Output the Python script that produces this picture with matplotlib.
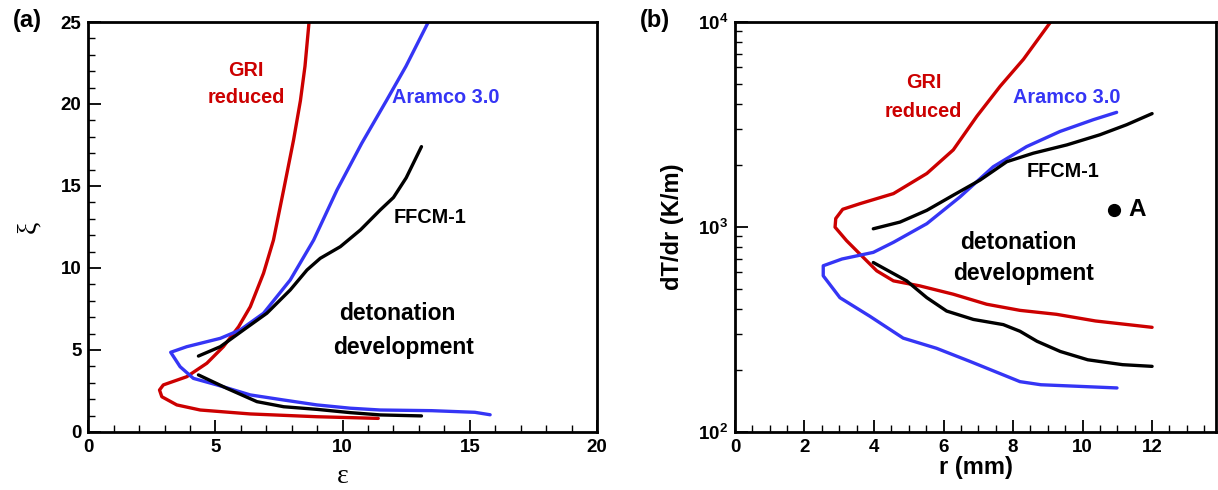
import numpy as np
import matplotlib
matplotlib.use("Agg")
import matplotlib.pyplot as plt
from matplotlib.ticker import MultipleLocator, LogLocator, NullFormatter, FixedLocator

plt.rcParams['font.family'] = ['Liberation Sans', 'DejaVu Sans']
plt.rcParams['font.weight'] = 'bold'
plt.rcParams['axes.labelweight'] = 'bold'
plt.rcParams['mathtext.fontset'] = 'custom'
plt.rcParams['mathtext.bf'] = 'Liberation Sans:bold'
plt.rcParams['mathtext.rm'] = 'Liberation Sans:bold'

RED = '#cc0000'
BLUE = '#3535f5'

# ---- panel (a): xi vs epsilon ----
gri_a_eps = [8.68, 8.52, 8.34, 8.07, 7.68, 7.28, 6.89, 6.37, 5.91, 5.31, 4.66, 3.87, 2.95, 2.8,
             2.89, 3.48, 4.4, 6.37, 8.99, 11.4]
gri_a_xi = [25.0, 22.3, 20.2, 17.8, 14.76, 11.7, 9.68, 7.64, 6.42, 5.2, 4.19, 3.37, 2.87, 2.56,
            2.15, 1.65, 1.34, 1.1, 0.93, 0.83]

ara_a_eps = [13.37, 12.49, 11.72, 10.75, 9.78, 8.86, 7.94, 6.89, 5.97, 5.19, 3.87, 3.24, 3.61,
             4.13, 5.06, 6.37, 7.68, 8.99, 10.3, 11.48, 13.5, 15.2, 15.8]
ara_a_xi = [25.0, 22.3, 20.2, 17.6, 14.76, 11.7, 9.27, 7.24, 6.22, 5.71, 5.2, 4.86, 3.98,
            3.27, 2.87, 2.26, 1.95, 1.65, 1.45, 1.34, 1.3, 1.2, 1.05]

ffcm_a_up_eps = [4.33, 5.19, 6.1, 7.02, 7.94, 8.6, 9.12, 9.91, 10.7, 11.48, 12.0, 12.5, 13.1]
ffcm_a_up_xi = [4.63, 5.2, 6.22, 7.24, 8.66, 9.88, 10.59, 11.3, 12.32, 13.54, 14.3, 15.5, 17.4]
ffcm_a_lo_eps = [4.33, 5.45, 6.63, 7.68, 8.99, 10.3, 11.48, 13.1]
ffcm_a_lo_xi = [3.48, 2.66, 1.85, 1.54, 1.38, 1.18, 1.04, 0.98]

# ---- panel (b): dT/dr vs r ----
gri_b_r = [9.08, 8.3, 7.63, 6.96, 6.28, 5.52, 4.56, 3.6, 3.1, 2.9, 2.88, 3.21, 3.69, 4.08,
           4.56, 5.32, 6.28, 7.24, 8.2, 9.25, 10.37, 12.0]
gri_b_g = [10000, 6580, 4860, 3470, 2377, 1824, 1455, 1300, 1220, 1100, 998, 858, 711, 611,
           546, 516, 470, 420, 392, 375, 348, 324]

ara_b_r = [10.98, 10.31, 9.35, 8.39, 7.43, 6.47, 5.52, 4.56, 3.98, 3.08, 2.54, 2.54, 3.02,
           3.88, 4.84, 5.8, 6.76, 8.2, 8.8, 10.99]
ara_b_g = [3625, 3338, 2924, 2467, 1967, 1400, 1038, 842, 752, 698, 647, 578, 452,
           367, 287, 256, 221, 176, 170, 164]

ffcm_b_up_r = [3.98, 4.75, 5.52, 6.28, 7.05, 7.82, 8.58, 9.55, 10.5, 11.27, 12.0]
ffcm_b_up_g = [980, 1057, 1206, 1429, 1693, 2082, 2290, 2515, 2818, 3155, 3574]
ffcm_b_lo_r = [3.98, 4.94, 5.52, 6.09, 6.86, 7.72, 8.2, 8.69, 9.36, 10.15, 11.15, 12.0]
ffcm_b_lo_g = [671, 546, 452, 389, 354, 334, 310, 277, 247, 225, 213, 209]

point_a = (10.91, 1216)

fig = plt.figure(figsize=(12.18, 4.9), dpi=100)
ax1 = fig.add_axes([0.0725, 0.1184, 0.4176, 0.8367])
ax2 = fig.add_axes([0.6034, 0.1184, 0.3950, 0.8367])

lw = 2.4
kw = dict(lw=lw, solid_joinstyle='round', solid_capstyle='round')
ax1.plot(gri_a_eps, gri_a_xi, color=RED, **kw)
ax1.plot(ara_a_eps, ara_a_xi, color=BLUE, **kw)
ax1.plot(ffcm_a_up_eps, ffcm_a_up_xi, color='k', **kw)
ax1.plot(ffcm_a_lo_eps, ffcm_a_lo_xi, color='k', **kw)
ax1.set_xlim(0, 20)
ax1.set_ylim(0, 25)
ax1.xaxis.set_major_locator(MultipleLocator(5))
ax1.xaxis.set_minor_locator(MultipleLocator(1))
ax1.yaxis.set_major_locator(MultipleLocator(5))
ax1.yaxis.set_minor_locator(MultipleLocator(1))
ax1.set_xlabel('ε', family='Liberation Serif', fontweight='normal', fontsize=20, labelpad=6)
ax1.set_ylabel('ξ', family='Liberation Serif', fontweight='normal', fontsize=20, labelpad=14)

tfs = 14.3
dfs = 16.5
ax1.text(6.21, 22.07, 'GRI', color=RED, fontsize=tfs, ha='center', va='center')
ax1.text(6.21, 20.4, 'reduced', color=RED, fontsize=tfs, ha='center', va='center')
ax1.text(14.04, 20.4, 'Aramco 3.0', color=BLUE, fontsize=tfs, ha='center', va='center')
ax1.text(13.42, 13.1, 'FFCM-1', color='k', fontsize=tfs, ha='center', va='center')
ax1.text(12.15, 7.2, 'detonation', fontsize=dfs, ha='center', va='center')
ax1.text(12.39, 5.13, 'development', fontsize=dfs, ha='center', va='center')

ax2.plot(gri_b_r, gri_b_g, color=RED, **kw)
ax2.plot(ara_b_r, ara_b_g, color=BLUE, **kw)
ax2.plot(ffcm_b_up_r, ffcm_b_up_g, color='k', **kw)
ax2.plot(ffcm_b_lo_r, ffcm_b_lo_g, color='k', **kw)
ax2.plot(*point_a, 'o', color='k', ms=8.5)
ax2.text(11.58, point_a[1], 'A', fontsize=17.5, ha='center', va='center')
ax2.set_yscale('log')
ax2.set_xlim(0, 13.84)
ax2.set_ylim(100, 10000)
ax2.xaxis.set_major_locator(FixedLocator([0, 2, 4, 6, 8, 10, 12]))
ax2.xaxis.set_minor_locator(MultipleLocator(0.5))
ax2.yaxis.set_minor_locator(LogLocator(base=10, subs=np.arange(2, 10)))
ax2.yaxis.set_minor_formatter(NullFormatter())
ax2.set_yticks([100, 1000, 10000])
ax2.set_yticklabels([r'$\mathbf{10^{2}}$', r'$\mathbf{10^{3}}$', r'$\mathbf{10^{4}}$'])
ax2.set_xlabel('r (mm)', fontsize=17, fontweight='bold', labelpad=0)
ax2.set_ylabel('dT/dr (K/m)', fontsize=17, fontweight='bold', labelpad=10)

ax2.text(5.42, 5060, 'GRI', color=RED, fontsize=tfs, ha='center', va='center')
ax2.text(5.42, 3660, 'reduced', color=RED, fontsize=tfs, ha='center', va='center')
ax2.text(9.54, 4265, 'Aramco 3.0', color=BLUE, fontsize=tfs, ha='center', va='center')
ax2.text(9.45, 1858, 'FFCM-1', color='k', fontsize=tfs, ha='center', va='center')
ax2.text(8.15, 842, 'detonation', fontsize=dfs, ha='center', va='center')
ax2.text(8.3, 590, 'development', fontsize=dfs, ha='center', va='center')

for ax in (ax1, ax2):
    for s in ax.spines.values():
        s.set_linewidth(2)
    ax.tick_params(which='major', direction='in', length=9, width=1.3, labelsize=13.5, pad=5,
                   top=False, right=False)
    ax.tick_params(which='minor', direction='in', length=5, width=1.0, top=False, right=False)
    for lab in ax.get_xticklabels() + ax.get_yticklabels():
        lab.set_fontweight('bold')

fig.text(27 / 1218, 1 - 21 / 490, '(a)', fontsize=17, ha='center', va='center')
fig.text(655 / 1218, 1 - 21 / 490, '(b)', fontsize=17, ha='center', va='center')

fig.savefig('out.png', dpi=100)
